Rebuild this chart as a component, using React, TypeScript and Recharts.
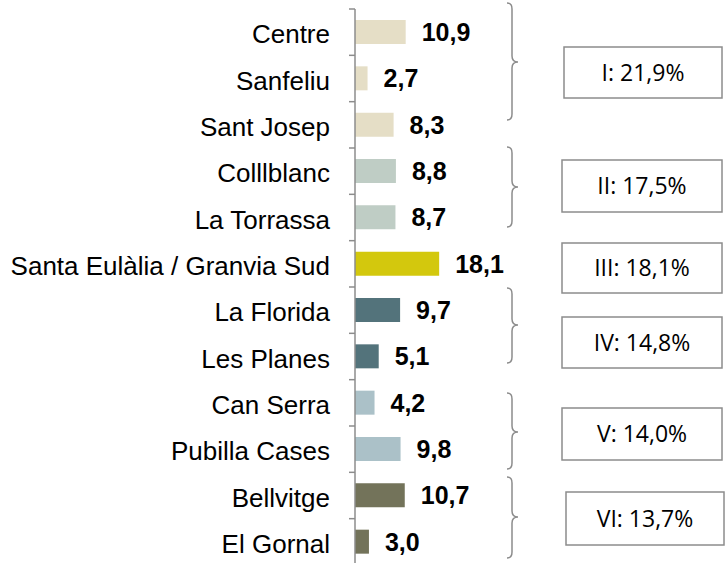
import { BarChart, Bar, XAxis, YAxis, Cell, LabelList } from "recharts"

const districts = [
  "Centre",
  "Sanfeliu",
  "Sant Josep",
  "Colllblanc",
  "La Torrassa",
  "Santa Eulàlia / Granvia Sud",
  "La Florida",
  "Les Planes",
  "Can Serra",
  "Pubilla Cases",
  "Bellvitge",
  "El Gornal",
]
const shares = [10.9, 2.7, 8.3, 8.8, 8.7, 18.1, 9.7, 5.1, 4.2, 9.8, 10.7, 3.0]
const districtGroup = [0, 0, 0, 1, 1, 2, 3, 3, 4, 4, 5, 5]
const groupLabels = ["I: 21,9%", "II: 17,5%", "III: 18,1%", "IV: 14,8%", "V: 14,0%", "VI: 13,7%"]

const groupColors = ["#e5dec6", "#bfcdc5", "#d3c80d", "#53737b", "#abc1c8", "#73735a"]

// annotation layout (pixels), braces and boxes on the right
const braces = [
  { top: 3, bottom: 120, tip: 62 },
  { top: 147, bottom: 227, tip: 187 },
  null,
  { top: 288, bottom: 363, tip: 325 },
  { top: 393, bottom: 469, tip: 432 },
  { top: 477, bottom: 558, tip: 517 },
]
const boxes = [
  { x: 564, y: 47, w: 158, h: 51 },
  { x: 562, y: 160, w: 160, h: 52 },
  { x: 562, y: 243, w: 160, h: 50 },
  { x: 562, y: 317, w: 160, h: 51 },
  { x: 562, y: 408, w: 160, h: 52 },
  { x: 566, y: 492, w: 158, h: 53 },
]

const data = districts.map((name, i) => ({ name, value: shares[i], group: districtGroup[i] }))

const W = 725
const H = 575
const TOP = 9
const BOTTOM = 10
const AXIS_X = 355
const BAND = (H - TOP - BOTTOM) / districts.length
const GREY = "#8c8c8c"

const fmt = (v: any) => Number(v).toFixed(1).replace(".", ",")

function CategoryTick(props: any) {
  const { y, payload, index } = props
  const last = index === districts.length - 1
  return (
    <g>
      <line x1={AXIS_X - 6} x2={AXIS_X} y1={y - BAND / 2} y2={y - BAND / 2} stroke={GREY} strokeWidth={1.5} />
      {last && (
        <line x1={AXIS_X - 6} x2={AXIS_X} y1={y + BAND / 2} y2={y + BAND / 2} stroke={GREY} strokeWidth={1.5} />
      )}
      <text
        x={AXIS_X - 25}
        y={y}
        dy={11}
        textAnchor="end"
        fill="#000"
        fontSize={26}
        fontFamily="'Liberation Sans', Arial, sans-serif"
      >
        {payload.value}
      </text>
    </g>
  )
}

function bracePath(b: { top: number; bottom: number; tip: number }) {
  const x0 = 507
  const x1 = 512
  const x2 = 518
  const r = 6
  return `M ${x0} ${b.top} Q ${x1} ${b.top} ${x1} ${b.top + r} L ${x1} ${b.tip - r} Q ${x1} ${b.tip} ${x2} ${b.tip} Q ${x1} ${b.tip} ${x1} ${b.tip + r} L ${x1} ${b.bottom - r} Q ${x1} ${b.bottom} ${x0} ${b.bottom}`
}

export default function App() {
  return (
    <div style={{ position: "absolute", left: 0, top: 0, width: W, height: 563, overflow: "hidden", background: "#fff" }}>
      <BarChart
        width={W}
        height={H}
        data={data}
        layout="vertical"
        margin={{ top: TOP, right: W - AXIS_X - 93, bottom: BOTTOM, left: 0 }}
      >
        <XAxis type="number" domain={[0, 20]} hide />
        <YAxis
          type="category"
          dataKey="name"
          width={AXIS_X}
          axisLine={{ stroke: GREY, strokeWidth: 1.5 }}
          tickLine={false}
          tickSize={0}
          interval={0}
          tick={<CategoryTick />}
        />
        <Bar dataKey="value" barSize={24} isAnimationActive={false}>
          {data.map((d, i) => (
            <Cell key={i} fill={groupColors[d.group]} />
          ))}
          <LabelList
            dataKey="value"
            position="right"
            offset={16}
            formatter={fmt}
            fill="#000"
            fontSize={25}
            fontWeight="bold"
            fontFamily="'Liberation Sans', Arial, sans-serif"
          />
        </Bar>
      </BarChart>
      <svg width={W} height={563} style={{ position: "absolute", left: 0, top: 0, pointerEvents: "none" }}>
        {braces.map((b, i) =>
          b ? <path key={"b" + i} d={bracePath(b)} fill="none" stroke={GREY} strokeWidth={1.5} /> : null
        )}
        {boxes.map((bx, i) => (
          <g key={"x" + i}>
            <rect x={bx.x} y={bx.y} width={bx.w} height={bx.h} fill="#fff" stroke={GREY} strokeWidth={1.5} />
            <text
              x={bx.x + bx.w / 2}
              y={bx.y + bx.h / 2}
              dy={8}
              textAnchor="middle"
              fill="#000"
              fontSize={23}
              fontFamily="'Open Sans', sans-serif"
            >
              {groupLabels[i]}
            </text>
          </g>
        ))}
      </svg>
    </div>
  )
}
